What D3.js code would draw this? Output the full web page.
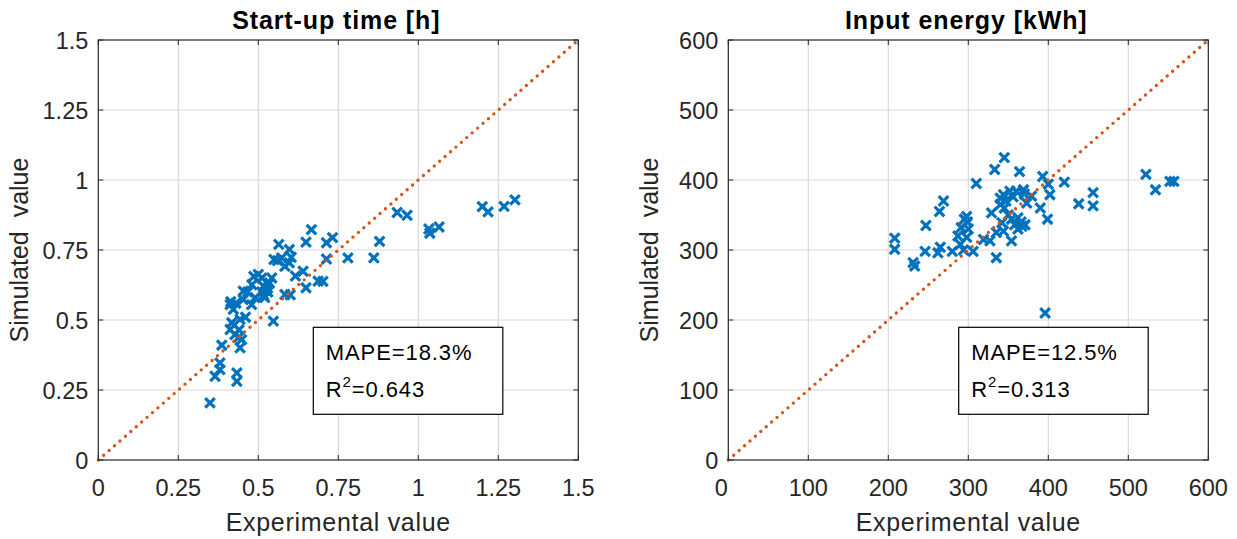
<!DOCTYPE html>
<html>
<head>
<meta charset="utf-8">
<script src="https://d3js.org/d3.v7.min.js"></script>
<style>
  body { margin: 0; background: #fff; }
  text { font-family: "Liberation Sans", Arial, sans-serif; fill: #262626; }
</style>
</head>
<body>
<svg id="chart" width="1237" height="539"></svg>
<script>
// tick values
var startupTicks = [0, 0.25, 0.5, 0.75, 1, 1.25, 1.5];
var energyTicks = [0, 100, 200, 300, 400, 500, 600];

// start-up time [h]: experimental vs simulated
var startupExp = [0.349, 0.365, 0.380, 0.380, 0.386, 0.433, 0.433, 0.443, 0.448, 0.427,
                  0.412, 0.417, 0.443, 0.412, 0.422, 0.414, 0.453, 0.479, 0.453, 0.467,
                  0.486, 0.500, 0.511, 0.480, 0.516, 0.511, 0.517, 0.529, 0.535, 0.542,
                  0.547, 0.549, 0.560, 0.564, 0.573, 0.583, 0.597, 0.597, 0.603, 0.583,
                  0.600, 0.616, 0.640, 0.649, 0.649, 0.666, 0.687, 0.702, 0.713, 0.713,
                  0.732, 0.780, 0.861, 0.879, 0.934, 0.965, 1.033, 1.036, 1.065, 1.200,
                  1.218, 1.268, 1.302, 0.440, 0.460, 0.430, 0.490, 0.520, 0.530, 0.440];
var startupSim = [0.204, 0.299, 0.323, 0.347, 0.410, 0.311, 0.281, 0.401, 0.430, 0.448,
                  0.466, 0.490, 0.502, 0.555, 0.538, 0.565, 0.573, 0.555, 0.603, 0.600,
                  0.656, 0.663, 0.650, 0.626, 0.621, 0.600, 0.589, 0.614, 0.632, 0.650,
                  0.496, 0.716, 0.712, 0.770, 0.722, 0.692, 0.704, 0.752, 0.724, 0.591,
                  0.590, 0.657, 0.674, 0.615, 0.778, 0.823, 0.639, 0.638, 0.776, 0.718,
                  0.794, 0.722, 0.722, 0.781, 0.884, 0.874, 0.825, 0.810, 0.832, 0.905,
                  0.886, 0.906, 0.929, 0.465, 0.510, 0.560, 0.580, 0.580, 0.600, 0.440];

// input energy [kWh]: experimental vs simulated
var energyExp = [208, 208, 231, 233, 246, 247, 264, 269, 262, 265, 280, 287, 291, 295, 298,
                 290, 294, 306, 310, 319, 327, 329, 335, 333, 345, 340, 344, 347, 352, 342,
                 344, 335, 354, 362, 358, 367, 371, 354, 364, 360, 369, 373, 379, 390, 393,
                 400, 402, 399, 420, 396, 438, 456, 456, 522, 534, 552, 557, 299, 300, 298,
                 345, 350, 362, 366, 370, 356, 340];
var energySim = [317, 301, 282, 277, 298, 335, 355, 370, 296, 304, 298, 320, 332, 344, 348,
                 308, 300, 298, 395, 315, 313, 353, 289, 415, 432, 374, 379, 370, 384, 339,
                 327, 325, 344, 346, 336, 334, 336, 313, 412, 384, 386, 367, 377, 360, 405,
                 394, 379, 344, 397, 210, 366, 382, 363, 408, 386, 398, 398, 340, 330, 318,
                 360, 350, 330, 340, 380, 376, 365];

var panels = [
  { title: "Start-up time [h]", exp: startupExp, sim: startupSim, ticks: startupTicks,
    max: 1.5, left: 98.3, boxDx: 215, mape: "MAPE=18.3%", r2: "0.643" },
  { title: "Input energy [kWh]", exp: energyExp, sim: energySim, ticks: energyTicks,
    max: 600, left: 728.3, boxDx: 230.4, mape: "MAPE=12.5%", r2: "0.313" }
];

var svg = d3.select("#chart"),
    plotTop = 40, w = 480, h = 420,
    axisColor = "#262626";

panels.forEach(function(p, pi) {
  var x = d3.scaleLinear().domain([0, p.max]).range([p.left, p.left + w]);
  var y = d3.scaleLinear().domain([0, p.max]).range([plotTop + h, plotTop]);
  var g = svg.append("g");

  // grid
  g.selectAll(".gx").data(p.ticks.slice(1, -1)).enter().append("line")
    .attr("x1", d => x(d)).attr("x2", d => x(d))
    .attr("y1", plotTop).attr("y2", plotTop + h)
    .attr("stroke", "#d9d9d9").attr("stroke-width", 1.2);
  g.selectAll(".gy").data(p.ticks.slice(1, -1)).enter().append("line")
    .attr("y1", d => y(d)).attr("y2", d => y(d))
    .attr("x1", p.left).attr("x2", p.left + w)
    .attr("stroke", "#d9d9d9").attr("stroke-width", 1.2);

  // inner ticks on all four sides
  var tl = 5;
  p.ticks.forEach(function(t) {
    g.append("line").attr("x1", x(t)).attr("x2", x(t)).attr("y1", plotTop + h).attr("y2", plotTop + h - tl)
      .attr("stroke", axisColor);
    g.append("line").attr("x1", x(t)).attr("x2", x(t)).attr("y1", plotTop).attr("y2", plotTop + tl)
      .attr("stroke", axisColor);
    g.append("line").attr("y1", y(t)).attr("y2", y(t)).attr("x1", p.left).attr("x2", p.left + tl)
      .attr("stroke", axisColor);
    g.append("line").attr("y1", y(t)).attr("y2", y(t)).attr("x1", p.left + w).attr("x2", p.left + w - tl)
      .attr("stroke", axisColor);
  });

  // tick labels
  g.selectAll(".xl").data(p.ticks).enter().append("text")
    .attr("x", (d, i) => x(d) + (pi === 1 && i === 0 ? -7 : 0)).attr("y", 496)
    .attr("text-anchor", "middle").attr("font-size", 23.5)
    .text(d => String(d));
  g.selectAll(".yl").data(p.ticks).enter().append("text")
    .attr("x", p.left - 10).attr("y", d => y(d) + 9)
    .attr("text-anchor", "end").attr("font-size", 23.5)
    .text(d => String(d));

  // markers
  var n = Math.min(p.exp.length, p.sim.length);
  g.selectAll(".pt").data(d3.range(n)).enter().append("path")
    .attr("transform", i => "translate(" + x(p.exp[i]) + "," + y(p.sim[i]) + ")")
    .attr("d", "M-4.8,-4.8L4.8,4.8M-4.8,4.8L4.8,-4.8")
    .attr("stroke", "#0072BD").attr("stroke-width", 3.2).attr("fill", "none");

  // 1:1 line
  g.append("line")
    .attr("x1", x(0)).attr("y1", y(0)).attr("x2", x(p.max)).attr("y2", y(p.max))
    .attr("stroke", "#D95319").attr("stroke-width", 3.4)
    .attr("stroke-dasharray", "0 7.2").attr("stroke-linecap", "round");

  // box
  g.append("rect").attr("x", p.left).attr("y", plotTop).attr("width", w).attr("height", h)
    .attr("fill", "none").attr("stroke", axisColor).attr("stroke-width", 1.2);

  // stats box
  var bx = p.left + p.boxDx, by = 327.3;
  g.append("rect").attr("x", bx).attr("y", by).attr("width", 189.5).attr("height", 87)
    .attr("fill", "#fff").attr("stroke", "#000").attr("stroke-width", 1.2);
  g.append("text").attr("x", bx + 12.5).attr("y", 359.5).attr("font-size", 22)
    .attr("letter-spacing", 0.9).style("fill", "#000").text(p.mape);
  var r = g.append("text").attr("x", bx + 12.5).attr("y", 396.5).attr("font-size", 22)
    .attr("letter-spacing", 0.9).style("fill", "#000");
  r.append("tspan").text("R");
  r.append("tspan").attr("dy", -10).attr("font-size", 15).text("2");
  r.append("tspan").attr("dy", 10).text("=" + p.r2);

  // titles and labels
  var cx = p.left + w / 2;
  g.append("text").attr("x", cx - 2).attr("y", 29).attr("text-anchor", "middle")
    .attr("font-size", 25).attr("letter-spacing", 0.9).attr("font-weight", "bold")
    .style("fill", "#000").text(p.title);
  g.append("text").attr("x", cx).attr("y", 531).attr("text-anchor", "middle")
    .attr("font-size", 25).attr("letter-spacing", 0.7).text("Experimental value");
  g.append("text").attr("transform", "translate(" + (p.left - 70) + "," + (plotTop + h / 2) + ") rotate(-90)")
    .attr("text-anchor", "middle").attr("font-size", 25)
    .style("white-space", "pre").text("Simulated  value");
});
</script>
</body>
</html>
